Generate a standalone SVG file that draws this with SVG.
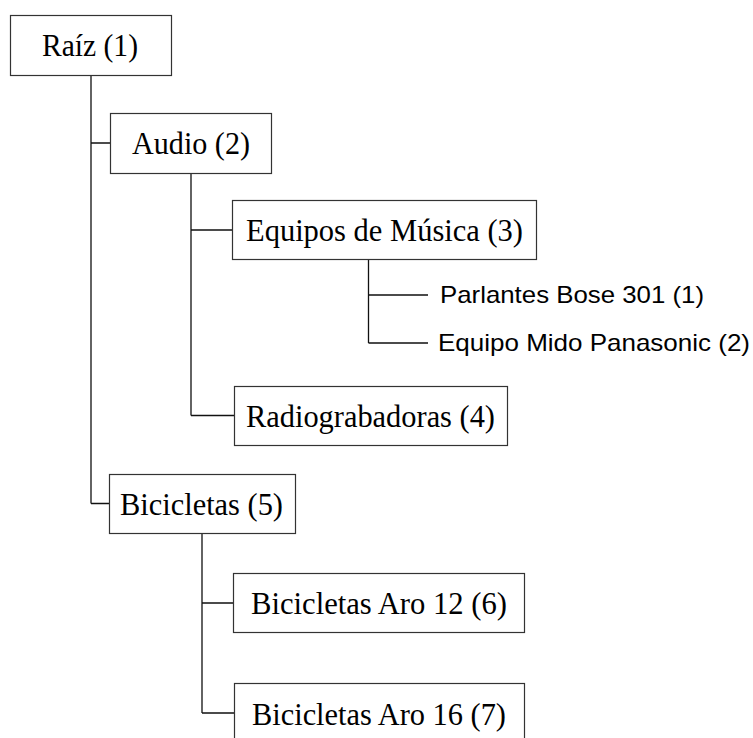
<svg xmlns="http://www.w3.org/2000/svg" width="753" height="738" viewBox="0 0 753 738">
<style>
.box{fill:#fff;stroke:#333;stroke-width:1.2}
.t{font-family:"Liberation Serif","Times New Roman",serif;font-size:31px;fill:#000}
.s{font-family:"Liberation Sans",Arial,sans-serif;font-size:24px;fill:#000}
.c{fill:none;stroke:#111;stroke-width:1.3}
</style>
<rect width="753" height="738" fill="#fff"/>
<g id="connectors">
<path class="c" d="M91 75.5V503.5M91 143H110.5M91 503.5H109.5"/>
<path class="c" d="M191 173.5V415.5M191 230H232.5M191 415.5H234.5"/>
<path class="c" d="M368.5 259.5V343M368.5 295H428M368.5 343H428"/>
<path class="c" d="M202 533.5V713M202 603H233.5M202 713H234.5"/>
</g>
<g id="n1"><rect class="box" x="10.5" y="15.5" width="161" height="60"/><text class="t" x="42" y="56" textLength="96" lengthAdjust="spacingAndGlyphs">Raíz (1)</text></g>
<g id="n2"><rect class="box" x="110.5" y="113.5" width="161" height="60"/><text class="t" x="132" y="153.5" textLength="118" lengthAdjust="spacingAndGlyphs">Audio (2)</text></g>
<g id="n3"><rect class="box" x="232.5" y="200.5" width="304" height="59"/><text class="t" x="246" y="241" textLength="277" lengthAdjust="spacingAndGlyphs">Equipos de Música (3)</text></g>
<g id="p1"><text class="s" x="440" y="303" textLength="264" lengthAdjust="spacingAndGlyphs">Parlantes Bose 301 (1)</text></g>
<g id="p2"><text class="s" x="438" y="351" textLength="312" lengthAdjust="spacingAndGlyphs">Equipo Mido Panasonic (2)</text></g>
<g id="n4"><rect class="box" x="234.5" y="386.5" width="273" height="59"/><text class="t" x="246" y="427" textLength="249" lengthAdjust="spacingAndGlyphs">Radiograbadoras (4)</text></g>
<g id="n5"><rect class="box" x="109.5" y="474.5" width="186" height="59"/><text class="t" x="120" y="515" textLength="163" lengthAdjust="spacingAndGlyphs">Bicicletas (5)</text></g>
<g id="n6"><rect class="box" x="233.5" y="573.5" width="291" height="59"/><text class="t" x="251" y="614" textLength="256" lengthAdjust="spacingAndGlyphs">Bicicletas Aro 12 (6)</text></g>
<g id="n7"><rect class="box" x="234.5" y="683.5" width="290" height="59"/><text class="t" x="252" y="724.5" textLength="254" lengthAdjust="spacingAndGlyphs">Bicicletas Aro 16 (7)</text></g>
</svg>
